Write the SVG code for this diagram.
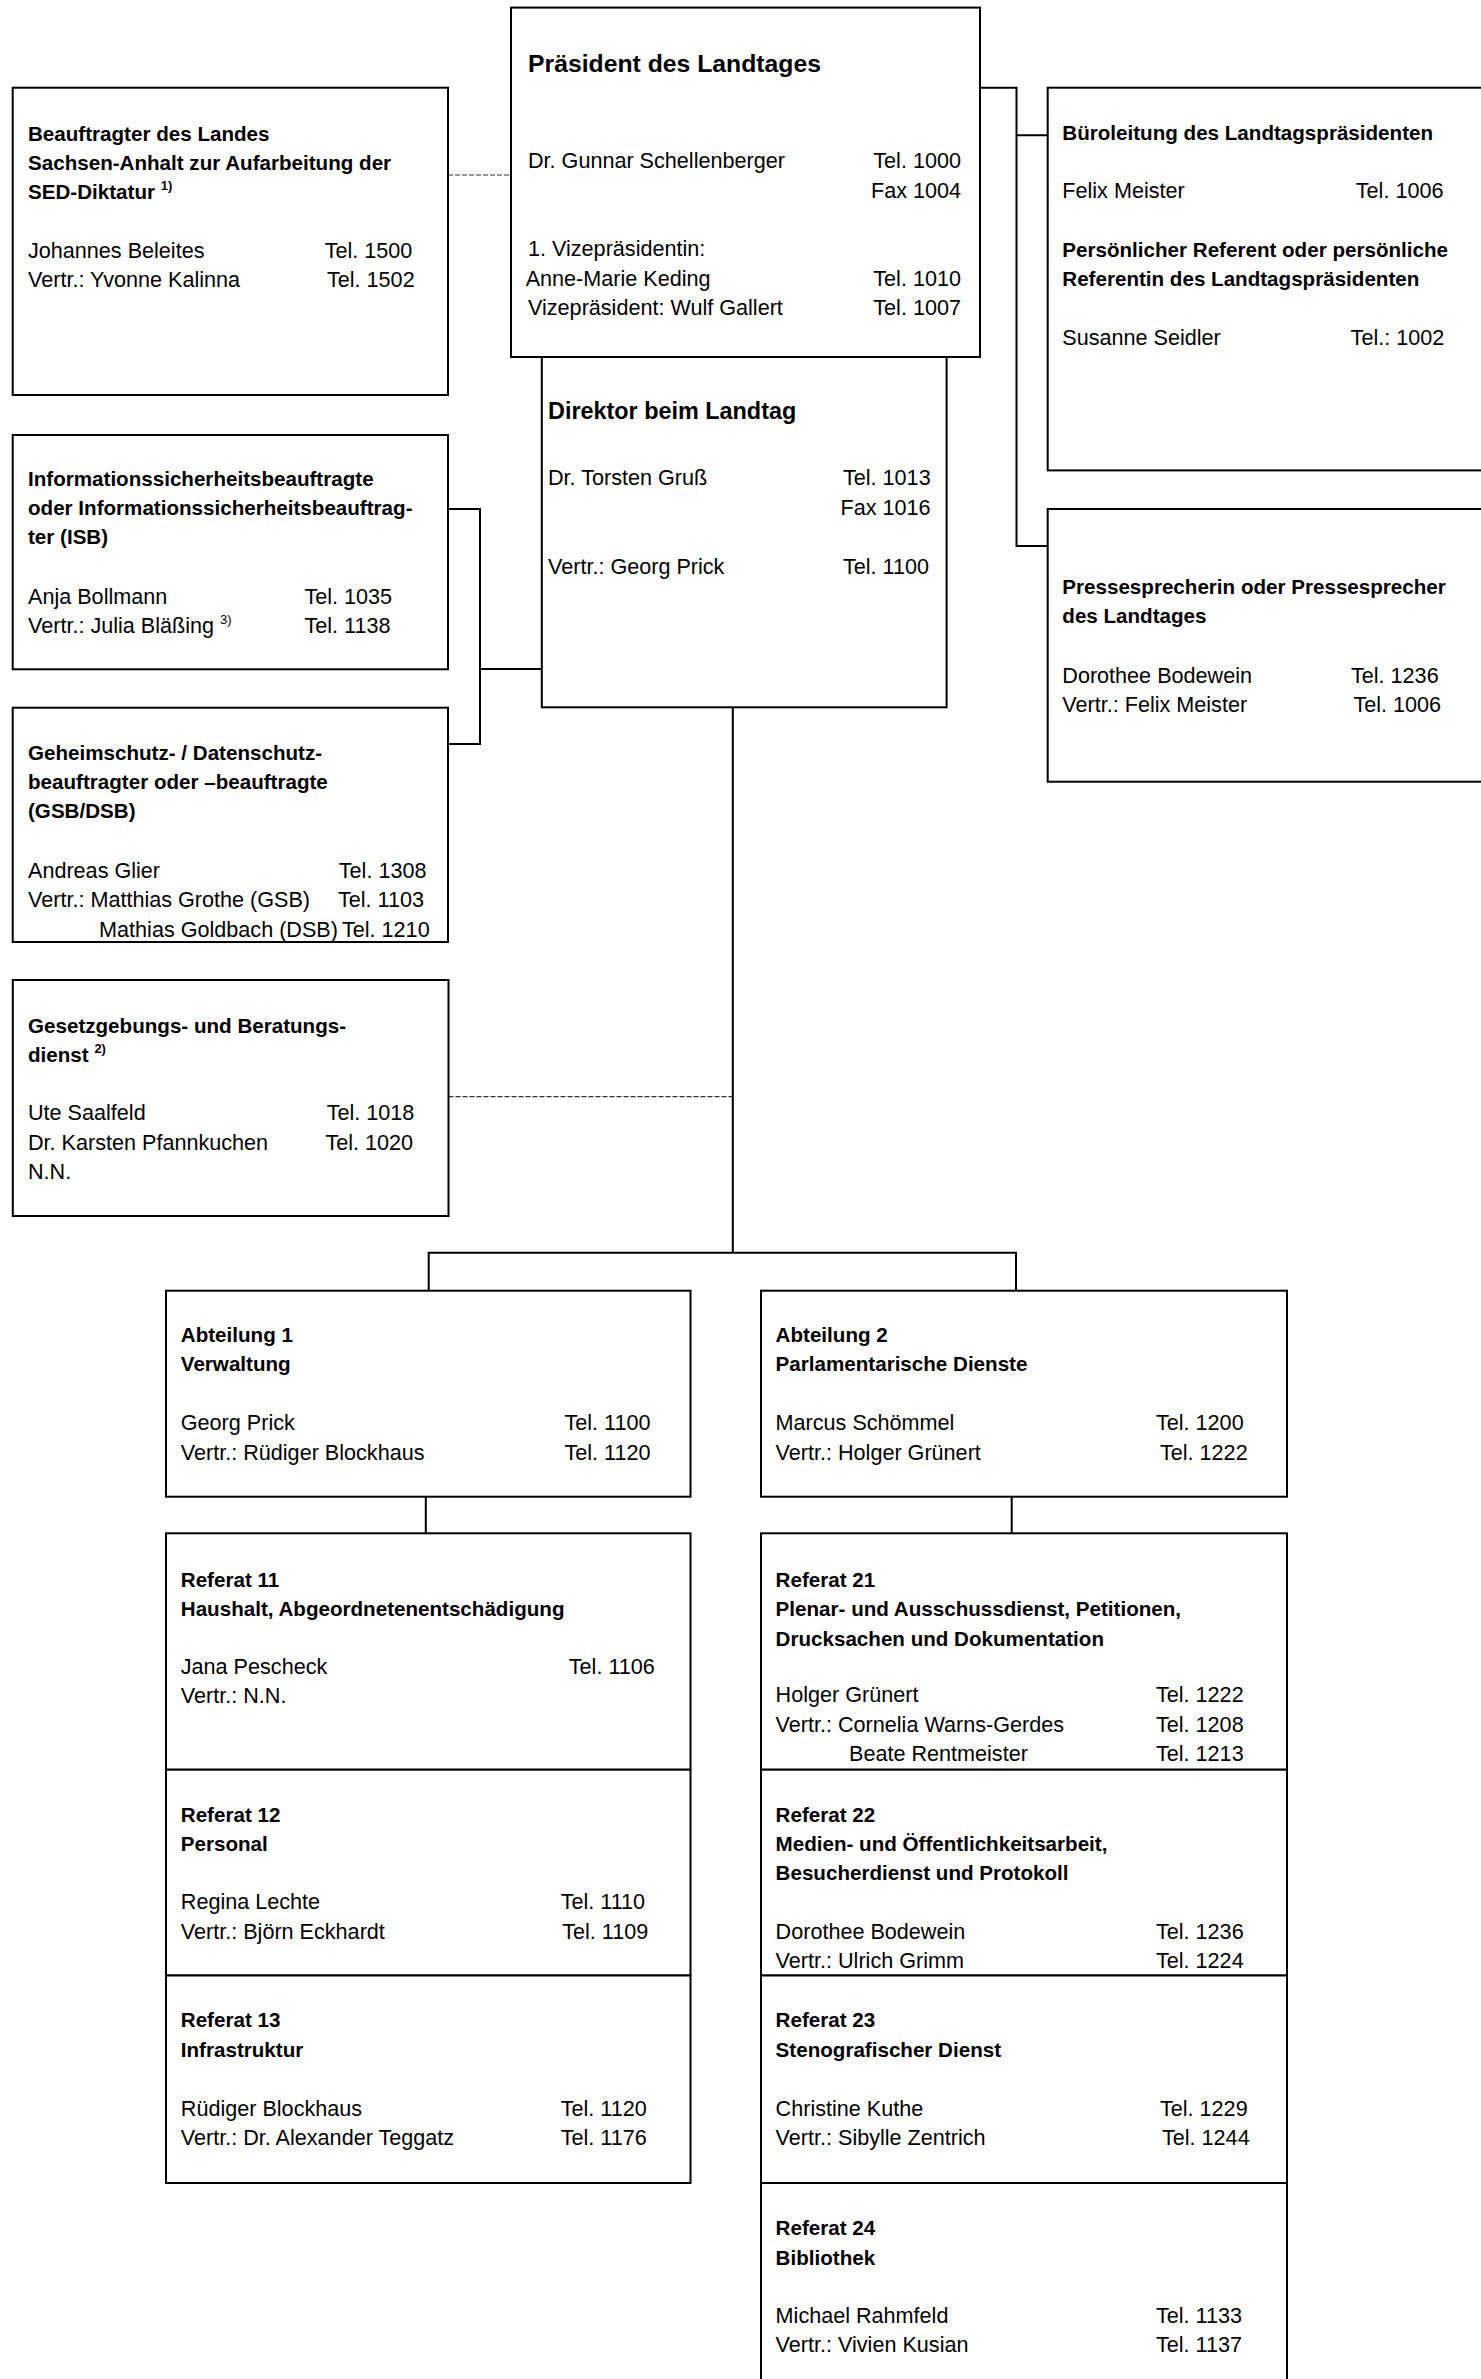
<svg xmlns="http://www.w3.org/2000/svg" width="1481" height="2379" viewBox="0 0 1481 2379">
<style>
.box{fill:#fff;stroke:#000;stroke-width:2}
.c{fill:none;stroke:#000;stroke-width:2}
.d{fill:none;stroke:#333;stroke-width:1.2;stroke-dasharray:5 2}
text{font-family:'Liberation Sans',Arial,sans-serif;font-size:21.6px;fill:#000}
.b{font-weight:bold;font-size:20.6px}
.h1{font-weight:bold;font-size:24.75px}
.h2{font-weight:bold;font-size:23.4px}
.e{text-anchor:end}
.sup{font-size:13px}
</style>
<rect x="0" y="0" width="1481" height="2379" fill="#fff"/>
<g id="connectors">
<path class="d" d="M448 175H511"/>
<path class="d" d="M448.5 1096.7H732.4"/>
<path class="c" d="M980 87.7H1016.5V546H1047.7M1016.5 135.3H1047.7"/>
<path class="c" d="M448 509H480V744H448M480 669H541.8"/>
<path class="c" d="M732.8 707V1252.7M428.7 1290.7V1252.7H1016V1290.7"/>
<path class="c" d="M425.8 1496.7V1533.3M1011.7 1496.7V1533.3"/>
</g>
<g id="n-beauftragter">
<rect class="box" x="12.7" y="87.7" width="435.3" height="307.3"/>
<text class="b" x="28" y="140.7">Beauftragter des Landes</text>
<text class="b" x="28" y="169.5">Sachsen-Anhalt zur Aufarbeitung der</text>
<text class="b" x="28" y="199">SED-Diktatur <tspan class="sup" dy="-9">1)</tspan></text>
<text x="28" y="258">Johannes Beleites</text><text x="324.7" y="258">Tel. 1500</text>
<text x="28" y="287">Vertr.: Yvonne Kalinna</text><text x="327" y="287">Tel. 1502</text>
</g>
<g id="n-direktor">
<rect class="box" x="541.8" y="357" width="404.8" height="350.3"/>
<text class="h2" x="548" y="418.6">Direktor beim Landtag</text>
<text x="548" y="485">Dr. Torsten Gruß</text><text x="843" y="485">Tel. 1013</text>
<text class="e" x="930.5" y="515">Fax 1016</text>
<text x="548" y="573.5">Vertr.: Georg Prick</text><text x="843" y="573.5">Tel. 1100</text>
</g>
<g id="n-praesident">
<rect class="box" x="511" y="7.6" width="469" height="349.4"/>
<text class="h1" x="528" y="72">Präsident des Landtages</text>
<text x="528" y="168.3">Dr. Gunnar Schellenberger</text><text x="873.3" y="168.3">Tel. 1000</text>
<text class="e" x="961" y="197.7">Fax 1004</text>
<text x="528" y="256">1. Vizepräsidentin:</text>
<text x="525.7" y="285.7">Anne-Marie Keding</text><text x="873.3" y="285.7">Tel. 1010</text>
<text x="528" y="314.5">Vizepräsident: Wulf Gallert</text><text x="873.3" y="314.5">Tel. 1007</text>
</g>
<g id="n-bueroleitung">
<rect class="box" x="1047.7" y="87.7" width="450" height="382.7"/>
<text class="b" x="1062.3" y="140">Büroleitung des Landtagspräsidenten</text>
<text x="1062.3" y="198.3">Felix Meister</text><text x="1355.8" y="198.3">Tel. 1006</text>
<text class="b" x="1062.3" y="256.7">Persönlicher Referent oder persönliche</text>
<text class="b" x="1062.3" y="285.7">Referentin des Landtagspräsidenten</text>
<text x="1062.3" y="345">Susanne Seidler</text><text x="1350.6" y="345">Tel.: 1002</text>
</g>
<g id="n-presse">
<rect class="box" x="1047.7" y="509" width="450" height="272.7"/>
<text class="b" x="1062.3" y="594">Pressesprecherin oder Pressesprecher</text>
<text class="b" x="1062.3" y="622.7">des Landtages</text>
<text x="1062.3" y="683.3">Dorothee Bodewein</text><text x="1351" y="683.3">Tel. 1236</text>
<text x="1062.3" y="712">Vertr.: Felix Meister</text><text x="1353.4" y="712">Tel. 1006</text>
</g>
<g id="n-isb">
<rect class="box" x="12.7" y="435" width="435.3" height="234.3"/>
<text class="b" x="28" y="486">Informationssicherheitsbeauftragte</text>
<text class="b" x="28" y="515">oder Informationssicherheitsbeauftrag-</text>
<text class="b" x="28" y="544">ter (ISB)</text>
<text x="28" y="604.3">Anja Bollmann</text><text x="304.4" y="604.3">Tel. 1035</text>
<text x="28" y="633.3">Vertr.: Julia Bläßing <tspan class="sup" dy="-9">3)</tspan></text><text x="304.4" y="633.3">Tel. 1138</text>
</g>
<g id="n-geheimschutz">
<rect class="box" x="12.7" y="707.7" width="435.3" height="234.3"/>
<text class="b" x="28" y="760">Geheimschutz- / Datenschutz-</text>
<text class="b" x="28" y="789">beauftragter oder –beauftragte</text>
<text class="b" x="28" y="818.3">(GSB/DSB)</text>
<text x="28" y="878.3">Andreas Glier</text><text x="338.8" y="878.3">Tel. 1308</text>
<text x="28" y="907.3">Vertr.: Matthias Grothe (GSB)</text><text x="338" y="907.3">Tel. 1103</text>
<text x="99.1" y="936.7">Mathias Goldbach (DSB)</text><text x="342" y="936.7">Tel. 1210</text>
</g>
<g id="n-gesetzgebung">
<rect class="box" x="12.8" y="980" width="435.7" height="236"/>
<text class="b" x="28" y="1033.3">Gesetzgebungs- und Beratungs-</text>
<text class="b" x="28" y="1061.7">dienst <tspan class="sup" dy="-9">2)</tspan></text>
<text x="28" y="1120">Ute Saalfeld</text><text x="326.7" y="1120">Tel. 1018</text>
<text x="28" y="1150">Dr. Karsten Pfannkuchen</text><text x="325.4" y="1150">Tel. 1020</text>
<text x="28" y="1179">N.N.</text>
</g>
<g id="n-abt1">
<rect class="box" x="166" y="1290.7" width="524.5" height="206"/>
<text class="b" x="180.8" y="1341.7">Abteilung 1</text>
<text class="b" x="180.8" y="1371.3">Verwaltung</text>
<text x="180.8" y="1430">Georg Prick</text><text x="564.4" y="1430">Tel. 1100</text>
<text x="180.8" y="1459.5">Vertr.: Rüdiger Blockhaus</text><text x="564.4" y="1459.5">Tel. 1120</text>
</g>
<g id="n-abt2">
<rect class="box" x="761" y="1290.7" width="526" height="206"/>
<text class="b" x="775.6" y="1341.7">Abteilung 2</text>
<text class="b" x="775.6" y="1371.3">Parlamentarische Dienste</text>
<text x="775.6" y="1430">Marcus Schömmel</text><text x="1156" y="1430">Tel. 1200</text>
<text x="775.6" y="1459.5">Vertr.: Holger Grünert</text><text x="1160" y="1459.5">Tel. 1222</text>
</g>
<g id="n-ref11">
<rect class="box" x="166" y="1533.3" width="524.5" height="236.4"/>
<text class="b" x="180.8" y="1586.7">Referat 11</text>
<text class="b" x="180.8" y="1616.2">Haushalt, Abgeordnetenentschädigung</text>
<text x="180.8" y="1673.5">Jana Pescheck</text><text x="568.8" y="1673.5">Tel. 1106</text>
<text x="180.8" y="1703">Vertr.: N.N.</text>
</g>
<g id="n-ref12">
<rect class="box" x="166" y="1769.7" width="524.5" height="205.8"/>
<text class="b" x="180.8" y="1821.5">Referat 12</text>
<text class="b" x="180.8" y="1850.8">Personal</text>
<text x="180.8" y="1909">Regina Lechte</text><text x="560.7" y="1909">Tel. 1110</text>
<text x="180.8" y="1938.5">Vertr.: Björn Eckhardt</text><text x="562.2" y="1938.5">Tel. 1109</text>
</g>
<g id="n-ref13">
<rect class="box" x="166" y="1975.5" width="524.5" height="207.5"/>
<text class="b" x="180.8" y="2027.3">Referat 13</text>
<text class="b" x="180.8" y="2057">Infrastruktur</text>
<text x="180.8" y="2115.7">Rüdiger Blockhaus</text><text x="560.7" y="2115.7">Tel. 1120</text>
<text x="180.8" y="2145">Vertr.: Dr. Alexander Teggatz</text><text x="560.7" y="2145">Tel. 1176</text>
</g>
<g id="n-ref21">
<rect class="box" x="761" y="1533.3" width="526" height="236.4"/>
<text class="b" x="775.6" y="1586.7">Referat 21</text>
<text class="b" x="775.6" y="1616.2">Plenar- und Ausschussdienst, Petitionen,</text>
<text class="b" x="775.6" y="1646">Drucksachen und Dokumentation</text>
<text x="775.6" y="1702">Holger Grünert</text><text x="1156" y="1702">Tel. 1222</text>
<text x="775.6" y="1731.5">Vertr.: Cornelia Warns-Gerdes</text><text x="1156" y="1731.5">Tel. 1208</text>
<text x="849" y="1761">Beate Rentmeister</text><text x="1156" y="1761">Tel. 1213</text>
</g>
<g id="n-ref22">
<rect class="box" x="761" y="1769.7" width="526" height="205.8"/>
<text class="b" x="775.6" y="1821.5">Referat 22</text>
<text class="b" x="775.6" y="1850.8">Medien- und Öffentlichkeitsarbeit,</text>
<text class="b" x="775.6" y="1880">Besucherdienst und Protokoll</text>
<text x="775.6" y="1938.9">Dorothee Bodewein</text><text x="1156" y="1938.9">Tel. 1236</text>
<text x="775.6" y="1968.2">Vertr.: Ulrich Grimm</text><text x="1156" y="1968.2">Tel. 1224</text>
</g>
<g id="n-ref23">
<rect class="box" x="761" y="1975.5" width="526" height="207.5"/>
<text class="b" x="775.6" y="2027.3">Referat 23</text>
<text class="b" x="775.6" y="2057">Stenografischer Dienst</text>
<text x="775.6" y="2115.7">Christine Kuthe</text><text x="1160" y="2115.7">Tel. 1229</text>
<text x="775.6" y="2145">Vertr.: Sibylle Zentrich</text><text x="1162" y="2145">Tel. 1244</text>
</g>
<g id="n-ref24">
<rect class="box" x="761" y="2183" width="526" height="220"/>
<text class="b" x="775.6" y="2235">Referat 24</text>
<text class="b" x="775.6" y="2264.5">Bibliothek</text>
<text x="775.6" y="2322.7">Michael Rahmfeld</text><text x="1156" y="2322.7">Tel. 1133</text>
<text x="775.6" y="2352">Vertr.: Vivien Kusian</text><text x="1156" y="2352">Tel. 1137</text>
</g>
</svg>
